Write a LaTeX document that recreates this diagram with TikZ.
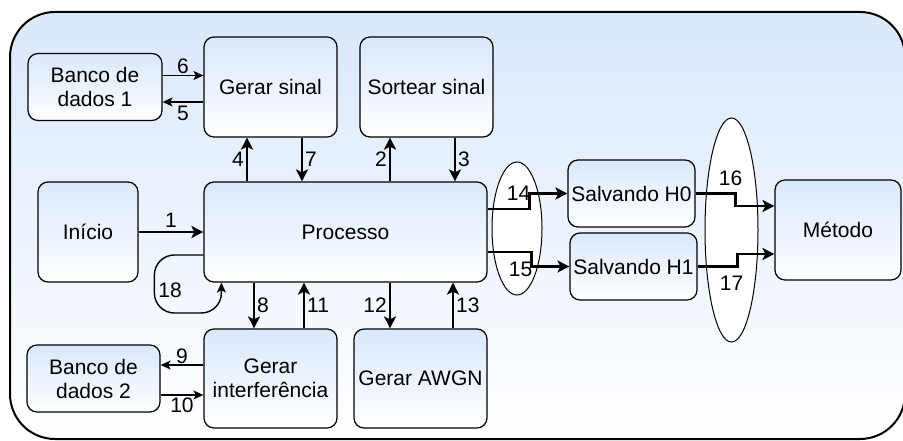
\documentclass[tikz,border=0pt]{standalone}
\usepackage{fontspec}
\setmainfont{Liberation Sans}
\usetikzlibrary{arrows.meta,shapes.geometric,positioning}
\definecolor{drawblue}{HTML}{DAE8FC}

\begin{document}
\begin{tikzpicture}[x=1pt, y=-1pt, node distance=150pt, font=\fontsize{21}{24}\selectfont]
    \tikzstyle{box} = [rectangle, draw, rounded corners=10pt, line width=1.2pt, top color=drawblue, bottom color=white, align=center, inner sep=2pt]
    \tikzstyle{bubble} = [ellipse, draw, fill=white, line width=1pt, inner sep=0pt]
    \tikzstyle{arrow} = [line width=2.4pt, -{Stealth[length=12pt, width=12pt, inset=3pt]}]
    \tikzstyle{thinarrow} = [line width=1.4pt, -{Stealth[length=10pt, width=9pt, inset=2.5pt]}]

    \useasboundingbox (0,0) rectangle (903,441);

    % Frame
    \draw [line width=2pt, rounded corners=45pt, top color=drawblue, bottom color=white] (10,12) rectangle (905,439);

    % Main blocks
    \node [box, minimum width=283pt, minimum height=100pt] (processo) at (345.5,232) {Processo};
    \node [box, minimum width=100pt, minimum height=100pt, left of=processo, node distance=257.5pt] (inicio) {Início};
    \node [box, minimum width=133pt, minimum height=100pt, above of=processo, node distance=145pt, xshift=-75pt] (gsinal) {Gerar sinal};
    \node [box, minimum width=133pt, minimum height=100pt, right of=gsinal, node distance=156pt] (sortear) {Sortear sinal};
    \node [box, minimum width=134pt, minimum height=67pt, left of=gsinal, node distance=175.5pt] (banco1) {Banco de\\dados 1};
    \node [box, minimum width=133pt, minimum height=99pt, below of=processo, node distance=146.5pt, xshift=-75pt] (ginterf) {Gerar\\interferência};
    \node [box, minimum width=133pt, minimum height=99pt, right of=ginterf, node distance=150pt] (awgn) {Gerar AWGN};
    \node [box, minimum width=133pt, minimum height=67pt, left of=ginterf, node distance=177pt] (banco2) {Banco de\\dados 2};

    % Outputs
    \node [bubble, minimum width=50pt, minimum height=133pt, right of=processo, node distance=171.5pt, yshift=3.5pt] (sel1) {};
    \node [bubble, minimum width=53pt, minimum height=224pt, right of=processo, node distance=386pt, yshift=2pt] (sel2) {};
    \node [box, minimum width=127pt, minimum height=67pt, right of=processo, node distance=286pt, yshift=38.5pt] (h0) {Salvando H0};
    \node [box, minimum width=127pt, minimum height=67pt, below of=h0, node distance=73pt, xshift=2pt] (h1) {Salvando H1};
    \node [box, minimum width=126pt, minimum height=100pt, right of=processo, node distance=492.5pt, yshift=2pt] (metodo) {Método};

    \draw [thinarrow] ([yshift=11.5pt]banco1.east) -- ([yshift=11.5pt]banco1.east -| gsinal.west) node [midway, above, inner sep=1pt] {6};
    \draw [thinarrow] ([yshift=-15pt]gsinal.west) -- ([yshift=-15pt]gsinal.west -| banco1.east) node [midway, below, inner sep=3pt] {5};
    \draw [arrow] ([xshift=-98.5pt]processo.north) -- ([xshift=-98.5pt]processo.north |- gsinal.south) node [midway, left, inner sep=2pt] {4};
    \draw [arrow] ([xshift=31.5pt]gsinal.south) -- ([xshift=31.5pt]gsinal.south |- processo.north) node [midway, right, inner sep=2pt] {7};
    \draw [arrow] ([xshift=44.5pt]processo.north) -- ([xshift=44.5pt]processo.north |- sortear.south) node [midway, left, inner sep=2pt] {2};
    \draw [arrow] ([xshift=28.5pt]sortear.south) -- ([xshift=28.5pt]sortear.south |- processo.north) node [midway, right, inner sep=2pt] {3};
    \draw [arrow] (inicio) -- (processo) node [midway, above, inner sep=3pt] {1};

    \draw [thinarrow, rounded corners=20pt] ([yshift=-23pt]processo.west) -- ++(-49pt,0) -- ++(0,-58pt) node [midway, right, yshift=-6pt] {18} -| ([xshift=18pt]processo.south west);

    \draw [arrow] ([xshift=-91.5pt]processo.south) -- ([xshift=-91.5pt]processo.south |- ginterf.north) node [midway, right, inner sep=2pt] {8};
    \draw [arrow] ([xshift=33.5pt]ginterf.north) -- ([xshift=33.5pt]ginterf.north |- processo.south) node [midway, right, inner sep=2pt] {11};
    \draw [arrow] ([xshift=44.5pt]processo.south) -- ([xshift=44.5pt]processo.south |- awgn.north) node [midway, left, inner sep=2pt] {12};
    \draw [arrow] ([xshift=32.5pt]awgn.north) -- ([xshift=32.5pt]awgn.north |- processo.south) node [midway, right, inner sep=2pt] {13};
    \draw [thinarrow] ([yshift=13.5pt]ginterf.west) -- ([yshift=13.5pt]ginterf.west -| banco2.east) node [midway, above, inner sep=1pt] {9};
    \draw [thinarrow] ([yshift=-16.5pt]banco2.east) -- ([yshift=-16.5pt]banco2.east -| ginterf.west) node [midway, below, inner sep=2pt] {10};

    \draw [arrow] ([yshift=23pt]processo.east) -| ([xshift=-38pt]h0.west) node [left, inner sep=1pt, xshift=3pt] {14} -- (h0.west);
    \draw [arrow] ([yshift=-20pt]processo.east) -| ([xshift=-38pt]h1.west) node [left, inner sep=1pt, xshift=3pt, yshift=-3pt] {15} -- (h1.west);
    \draw [arrow] (h0.east) -- ++(40pt,0) node [above, inner sep=5pt, xshift=-5pt, yshift=2pt] {16} |- ([yshift=24pt]metodo.west);
    \draw [arrow] (h1.east) -- ++(40pt,0) node [below, inner sep=8pt, xshift=-6pt] {17} |- ([yshift=-24pt]metodo.west);
\end{tikzpicture}
\end{document}
